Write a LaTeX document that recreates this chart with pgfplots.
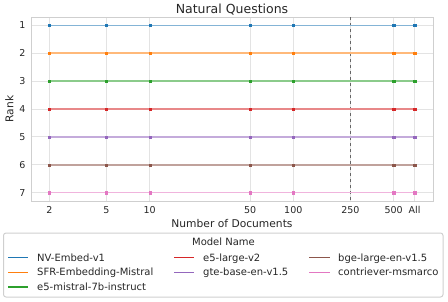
\documentclass[border=0pt]{standalone}
\usepackage{fontspec}
\setmainfont{DejaVu Sans}
\usepackage{pgfplots}
\pgfplotsset{compat=1.18}
\definecolor{tabblue}{HTML}{1F77B4}
\definecolor{taborange}{HTML}{FF7F0E}
\definecolor{tabgreen}{HTML}{2CA02C}
\definecolor{tabred}{HTML}{D62728}
\definecolor{tabpurple}{HTML}{9467BD}
\definecolor{tabbrown}{HTML}{8C564B}
\definecolor{tabpink}{HTML}{E377C2}
\definecolor{txt}{HTML}{262626}
\definecolor{gridc}{HTML}{E3E3E3}
\definecolor{framec}{HTML}{CFCFCF}
\pgfplotstableread{
x r1 r2 r3 r4 r5 r6 r7
2 1 2 3 4 5 6 7
5 1 2 3 4 5 6 7
10 1 2 3 4 5 6 7
50 1 2 3 4 5 6 7
100 1 2 3 4 5 6 7
500 1 2 3 4 5 6 7
700 1 2 3 4 5 6 7
}\ranks
\begin{document}
\begin{tikzpicture}[x=1pt,y=1pt]
\useasboundingbox (0,0) rectangle (448,301);
\begin{axis}[
  at={(31pt,100pt)}, anchor=south west,
  scale only axis, width=402pt, height=184pt,
  xmode=log, xmin=1.49, xmax=940,
  ymin=0.7, ymax=7.3, y dir=reverse,
  xtick={2,5,10,50,100,250,500,700},
  xticklabels={2,5,10,50,100,250,500,All},
  ytick={1,2,3,4,5,6,7},
  yticklabels={1,2,3,4,5,6,7},
  /pgf/number format/assume math mode=true,
  tick style={draw=none},
  major tick length=0pt,
  grid=major,
  grid style={gridc, line width=0.9pt},
  axis line style={framec, line width=0.9pt},
  ticklabel style={txt, font=\fontsize{9.5}{11}\selectfont},
  xticklabel style={yshift=-2pt},
  yticklabel style={xshift=-2pt},
  title={Natural Questions},
  title style={txt, font=\fontsize{12.5}{15}\selectfont, yshift=-8pt},
  xlabel={Number of Documents},
  ylabel={Rank},
  label style={txt, font=\fontsize{10.7}{13}\selectfont},
  xlabel style={yshift=1pt},
  ylabel style={yshift=-1pt},
  every axis plot/.append style={line width=1.7pt, mark=square*, mark size=1.05pt},
]
\addplot[color=black!60, dashed, line width=0.6pt, mark=none] coordinates {(250,0.7) (250,7.3)};
\addplot[color=tabblue!55!white, mark options={solid, fill=tabblue, draw=tabblue, line width=0.2pt}] table[x=x, y=r1] {\ranks};
\addplot[color=taborange!55!white, mark options={solid, fill=taborange, draw=taborange, line width=0.2pt}] table[x=x, y=r2] {\ranks};
\addplot[color=tabgreen!55!white, mark options={solid, fill=tabgreen, draw=tabgreen, line width=0.2pt}] table[x=x, y=r3] {\ranks};
\addplot[color=tabred!55!white, mark options={solid, fill=tabred, draw=tabred, line width=0.2pt}] table[x=x, y=r4] {\ranks};
\addplot[color=tabpurple!55!white, mark options={solid, fill=tabpurple, draw=tabpurple, line width=0.2pt}] table[x=x, y=r5] {\ranks};
\addplot[color=tabbrown!55!white, mark options={solid, fill=tabbrown, draw=tabbrown, line width=0.2pt}] table[x=x, y=r6] {\ranks};
\addplot[color=tabpink!55!white, mark options={solid, fill=tabpink, draw=tabpink, line width=0.2pt}] table[x=x, y=r7] {\ranks};
\end{axis}
% legend
\draw[framec, rounded corners=2.5pt, line width=1pt] (3.5,4) rectangle (443,68);
\begin{scope}[every node/.style={txt, font=\fontsize{10}{12}\selectfont, inner sep=0pt, anchor=base west}]
\node[anchor=base] at (223.5,55.4) {Model Name};
\draw[tabblue, line width=1.3pt] (8,43.5) -- (28,43.5);   \node at (37,39.7) {NV-Embed-v1};
\draw[taborange, line width=1.3pt] (8,28.5) -- (28,28.5); \node at (37,25.1) {SFR-Embedding-Mistral};
\draw[tabgreen, line width=1.3pt] (8,14) -- (28,14);      \node at (37,10.4) {e5-mistral-7b-instruct};
\draw[tabred, line width=1.3pt] (174,43.5) -- (194,43.5); \node at (203,39.7) {e5-large-v2};
\draw[tabpurple, line width=1.3pt] (174,28.5) -- (194,28.5); \node at (203,25.1) {gte-base-en-v1.5};
\draw[tabbrown, line width=1.3pt] (309,43.5) -- (330,43.5); \node at (338,39.7) {bge-large-en-v1.5};
\draw[tabpink, line width=1.3pt] (309,28.5) -- (330,28.5); \node at (338,25.1) {contriever-msmarco};
\end{scope}
\end{tikzpicture}
\end{document}
